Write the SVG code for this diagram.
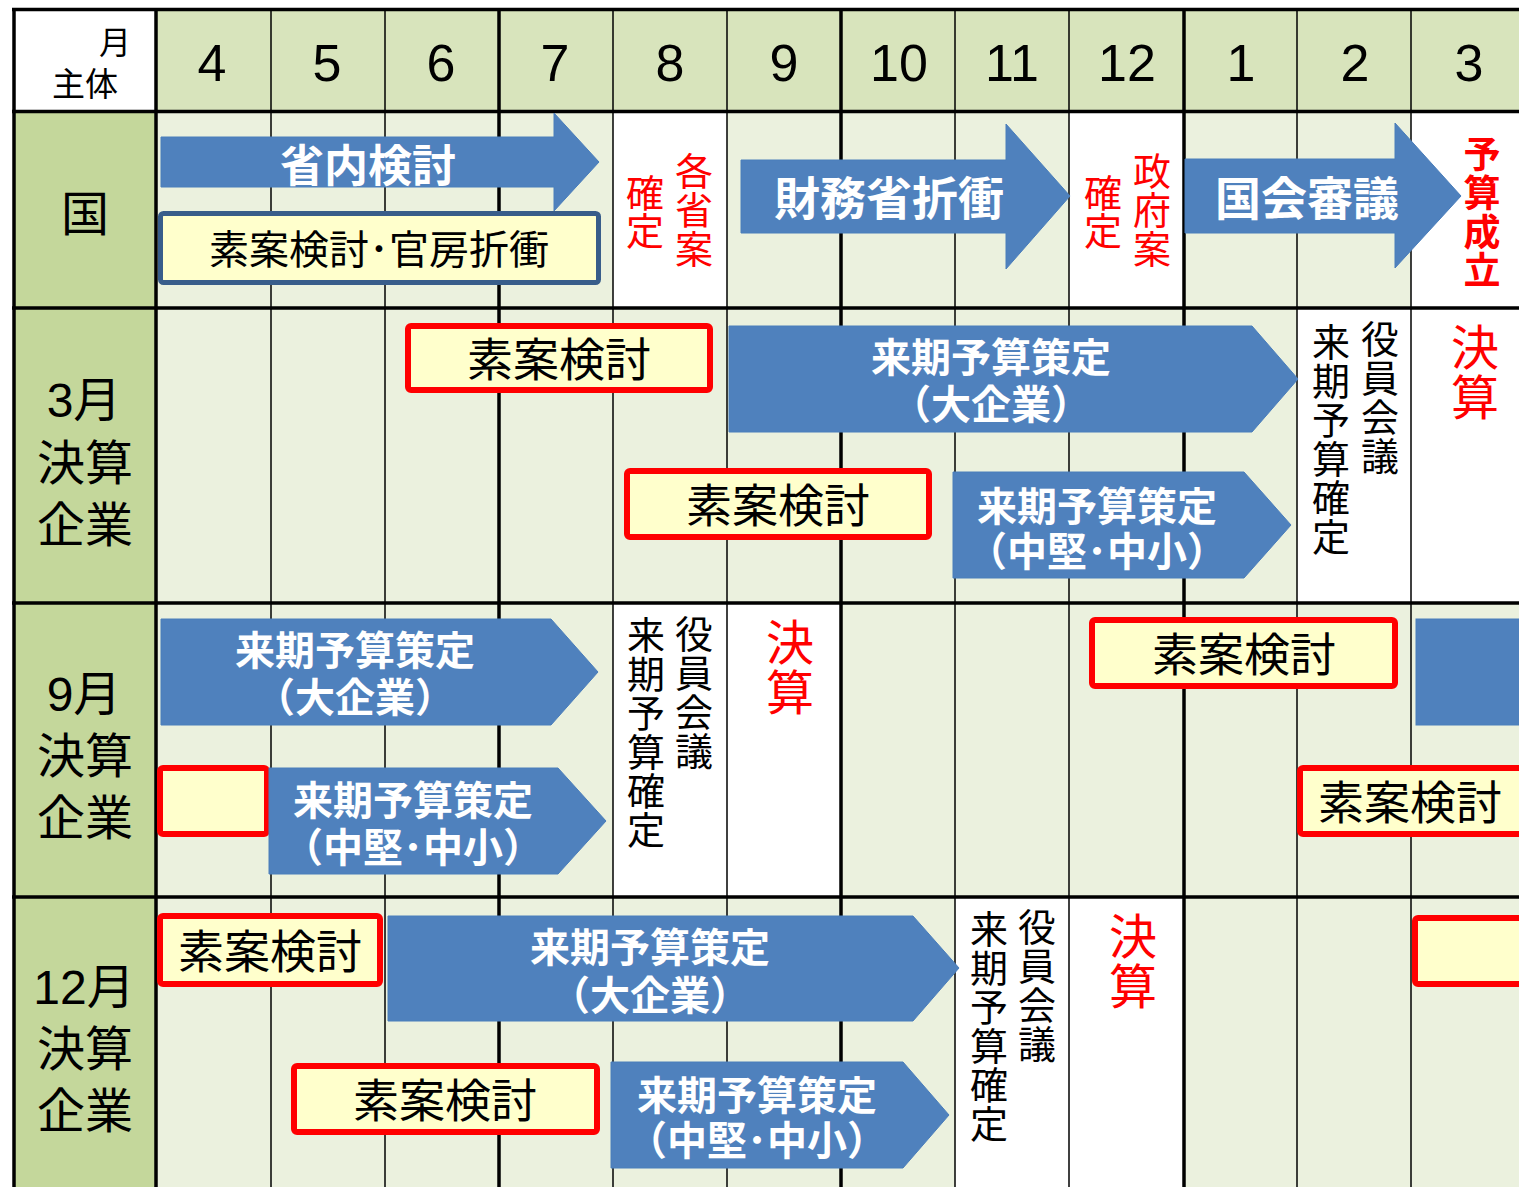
<svg xmlns="http://www.w3.org/2000/svg" width="1519" height="1187" viewBox="0 0 1519 1187">
<style>
text{font-family:"Liberation Sans","Noto Sans CJK JP",sans-serif;}
.mon{font-size:52px;text-anchor:middle;fill:#000;}
.lbl{font-size:48px;text-anchor:middle;fill:#000;}
.arr{fill:#4f81bd;stroke:#4a7ebb;stroke-width:1;}
.wt{fill:#fff;font-weight:bold;text-anchor:middle;}
.rbox{fill:#ffffcc;stroke:#ff0000;stroke-width:6;}
.bt{fill:#000;font-size:46px;text-anchor:middle;}
.vt{fill:#000;font-size:38px;text-anchor:middle;}
.rv{fill:#ff0000;font-size:38px;text-anchor:middle;}
.thin{stroke:#000;stroke-width:1.5;}
.thick{stroke:#000;stroke-width:3.5;}
</style>
<g id="background">
<rect x="0" y="0" width="1519" height="1187" fill="#ffffff"/>
<rect x="13" y="10" width="143" height="102" fill="#ffffff"/>
<rect x="156" y="10" width="1363" height="102" fill="#d8e4bc"/>
<rect x="13" y="112" width="143" height="1075" fill="#c4d79b"/>
<rect x="156" y="112" width="1363" height="1075" fill="#ebf1de"/>
<rect x="613" y="112" width="114" height="196" fill="#ffffff"/>
<rect x="1069" y="112" width="114" height="196" fill="#ffffff"/>
<rect x="1411" y="112" width="108" height="196" fill="#ffffff"/>
<rect x="1297" y="308" width="222" height="295" fill="#ffffff"/>
<rect x="613" y="603" width="228" height="294" fill="#ffffff"/>
<rect x="955" y="897" width="228" height="290" fill="#ffffff"/>
</g>
<g id="grid">
<line class="thin" x1="271" y1="10" x2="271" y2="1187"/>
<line class="thin" x1="385" y1="10" x2="385" y2="1187"/>
<line class="thin" x1="613" y1="10" x2="613" y2="1187"/>
<line class="thin" x1="727" y1="10" x2="727" y2="1187"/>
<line class="thin" x1="955" y1="10" x2="955" y2="1187"/>
<line class="thin" x1="1069" y1="10" x2="1069" y2="1187"/>
<line class="thin" x1="1297" y1="10" x2="1297" y2="1187"/>
<line class="thin" x1="1411" y1="10" x2="1411" y2="1187"/>
<line class="thick" x1="14" y1="8" x2="14" y2="1187"/>
<line class="thick" x1="156" y1="8" x2="156" y2="1187"/>
<line class="thick" x1="499" y1="8" x2="499" y2="1187"/>
<line class="thick" x1="841" y1="8" x2="841" y2="1187"/>
<line class="thick" x1="1184" y1="8" x2="1184" y2="1187"/>
<line class="thick" x1="12" y1="9.5" x2="1519" y2="9.5"/>
<line class="thick" x1="12" y1="111.5" x2="1519" y2="111.5"/>
<line class="thick" x1="12" y1="308" x2="1519" y2="308"/>
<line class="thick" x1="12" y1="603" x2="1519" y2="603"/>
<line class="thick" x1="12" y1="897" x2="1519" y2="897"/>
</g>
<g id="header">
<text x="115" y="54" style="font-size:32px;text-anchor:middle">月</text>
<text x="85" y="96" style="font-size:33px;text-anchor:middle">主体</text>
<text class="mon" x="212" y="81">4</text>
<text class="mon" x="327" y="81">5</text>
<text class="mon" x="441" y="81">6</text>
<text class="mon" x="555" y="81">7</text>
<text class="mon" x="670" y="81">8</text>
<text class="mon" x="784" y="81">9</text>
<text class="mon" x="899" y="81">10</text>
<text class="mon" x="1012" y="81">11</text>
<text class="mon" x="1127" y="81">12</text>
<text class="mon" x="1241" y="81">1</text>
<text class="mon" x="1355" y="81">2</text>
<text class="mon" x="1469" y="81">3</text>
</g>
<g id="row-labels">
<text class="lbl" x="85" y="231">国</text>
<text class="lbl" x="84" y="417">3月</text>
<text class="lbl" x="85" y="480">決算</text>
<text class="lbl" x="85" y="542">企業</text>
<text class="lbl" x="84" y="711">9月</text>
<text class="lbl" x="85" y="773">決算</text>
<text class="lbl" x="85" y="835">企業</text>
<text class="lbl" x="84" y="1004">12月</text>
<text class="lbl" x="85" y="1066">決算</text>
<text class="lbl" x="85" y="1128">企業</text>
</g>
<g id="kuni-shonai">
<polygon class="arr" points="161,137 554,137 554,113 599,162 554,211 554,187 161,187"/>
<text class="wt" x="368" y="182" style="font-size:44px">省内検討</text>
</g>
<g id="kuni-soan">
<rect x="160.5" y="213.5" width="438" height="69" rx="3" fill="#ffffcc" stroke="#385d8a" stroke-width="5"/>
<text x="379" y="264" style="font-size:40px;text-anchor:middle">素案検討･官房折衝</text>
</g>
<g id="kuni-kakushoan">
<text class="rv" x="645 645" y="207 245">確定</text>
<text class="rv" x="694 694 694" y="185 224 263">各省案</text>
</g>
<g id="kuni-zaimu">
<polygon class="arr" points="741,160 1006,160 1006,124 1070,196 1006,269 1006,233 741,233"/>
<text class="wt" x="889" y="215" style="font-size:46px">財務省折衝</text>
</g>
<g id="kuni-seifuan">
<text class="rv" x="1103 1103" y="207 245">確定</text>
<text class="rv" x="1152 1152 1152" y="185 224 263">政府案</text>
</g>
<g id="kuni-kokkai">
<polygon class="arr" points="1185,159 1395,159 1395,123 1461,196 1395,268 1395,233 1185,233"/>
<text class="wt" x="1307" y="215" style="font-size:46px">国会審議</text>
</g>
<g id="kuni-seiritsu">
<text class="rv" x="1482 1482 1482 1482" y="168 207 246 284" style="font-size:37px;font-weight:bold">予算成立</text>
</g>
<g id="mar-soan1">
<rect class="rbox" x="408" y="326" width="302" height="64" rx="3"/>
<text class="bt" x="559" y="376">素案検討</text>
</g>
<g id="mar-dai">
<polygon class="arr" points="729,326 1252,326 1298,379 1252,432 729,432"/>
<text class="wt" x="991" y="372" style="font-size:40px">来期予算策定</text>
<text class="wt" x="991" y="419" style="font-size:40px">（大企業）</text>
</g>
<g id="mar-soan2">
<rect class="rbox" x="627" y="471" width="302" height="66" rx="3"/>
<text class="bt" x="778" y="522">素案検討</text>
</g>
<g id="mar-chuken">
<polygon class="arr" points="953,472 1244,472 1291,525 1244,578 953,578"/>
<text class="wt" x="1097" y="521" style="font-size:40px">来期予算策定</text>
<text class="wt" x="1097" y="566" style="font-size:40px">（中堅･中小）</text>
</g>
<g id="mar-yakuin">
<text class="vt" x="1380 1380 1380 1380" y="353 392 431 470">役員会議</text>
<text class="vt" x="1331 1331 1331 1331 1331 1331" y="356 395 434 473 512 551">来期予算確定</text>
</g>
<g id="mar-kessan">
<text class="rv" x="1475 1475" y="365 415" style="font-size:48px">決算</text>
</g>
<g id="sep-dai">
<polygon class="arr" points="161,619 551,619 598,672 551,725 161,725"/>
<text class="wt" x="355" y="665" style="font-size:40px">来期予算策定</text>
<text class="wt" x="355" y="712" style="font-size:40px">（大企業）</text>
</g>
<g id="sep-soan-left">
<rect class="rbox" x="160" y="768" width="107" height="66" rx="3"/>
</g>
<g id="sep-chuken">
<polygon class="arr" points="269,768 558,768 606,821 558,874 269,874"/>
<text class="wt" x="413" y="815" style="font-size:40px">来期予算策定</text>
<text class="wt" x="413" y="862" style="font-size:40px">（中堅･中小）</text>
</g>
<g id="sep-yakuin">
<text class="vt" x="694 694 694 694" y="648 687 726 765">役員会議</text>
<text class="vt" x="646 646 646 646 646 646" y="649 688 727 766 805 844">来期予算確定</text>
</g>
<g id="sep-kessan">
<text class="rv" x="790 790" y="660 710" style="font-size:48px">決算</text>
</g>
<g id="sep-soan1">
<rect class="rbox" x="1092" y="620" width="303" height="66" rx="3"/>
<text class="bt" x="1244" y="671">素案検討</text>
</g>
<g id="sep-next-dai">
<rect x="1416" y="619" width="110" height="106" class="arr"/>
</g>
<g id="sep-soan2">
<rect class="rbox" x="1300" y="768" width="230" height="66" rx="3"/>
<text class="bt" x="1410" y="819">素案検討</text>
</g>
<g id="dec-soan1">
<rect class="rbox" x="160" y="916" width="220" height="68" rx="3"/>
<text class="bt" x="270" y="968">素案検討</text>
</g>
<g id="dec-dai">
<polygon class="arr" points="388,916 913,916 959,968 913,1021 388,1021"/>
<text class="wt" x="650" y="962" style="font-size:40px">来期予算策定</text>
<text class="wt" x="650" y="1010" style="font-size:40px">（大企業）</text>
</g>
<g id="dec-soan2">
<rect class="rbox" x="294" y="1066" width="303" height="66" rx="3"/>
<text class="bt" x="445" y="1117">素案検討</text>
</g>
<g id="dec-chuken">
<polygon class="arr" points="611,1062 903,1062 949,1115 903,1168 611,1168"/>
<text class="wt" x="757" y="1110" style="font-size:40px">来期予算策定</text>
<text class="wt" x="757" y="1155" style="font-size:40px">（中堅･中小）</text>
</g>
<g id="dec-yakuin">
<text class="vt" x="1037 1037 1037 1037" y="941 980 1019 1058">役員会議</text>
<text class="vt" x="989 989 989 989 989 989" y="943 982 1021 1060 1099 1138">来期予算確定</text>
</g>
<g id="dec-kessan">
<text class="rv" x="1133 1133" y="954 1004" style="font-size:48px">決算</text>
</g>
<g id="dec-soan-right">
<rect class="rbox" x="1415" y="918" width="115" height="66" rx="3"/>
</g>
<g id="connectors"/>
</svg>
